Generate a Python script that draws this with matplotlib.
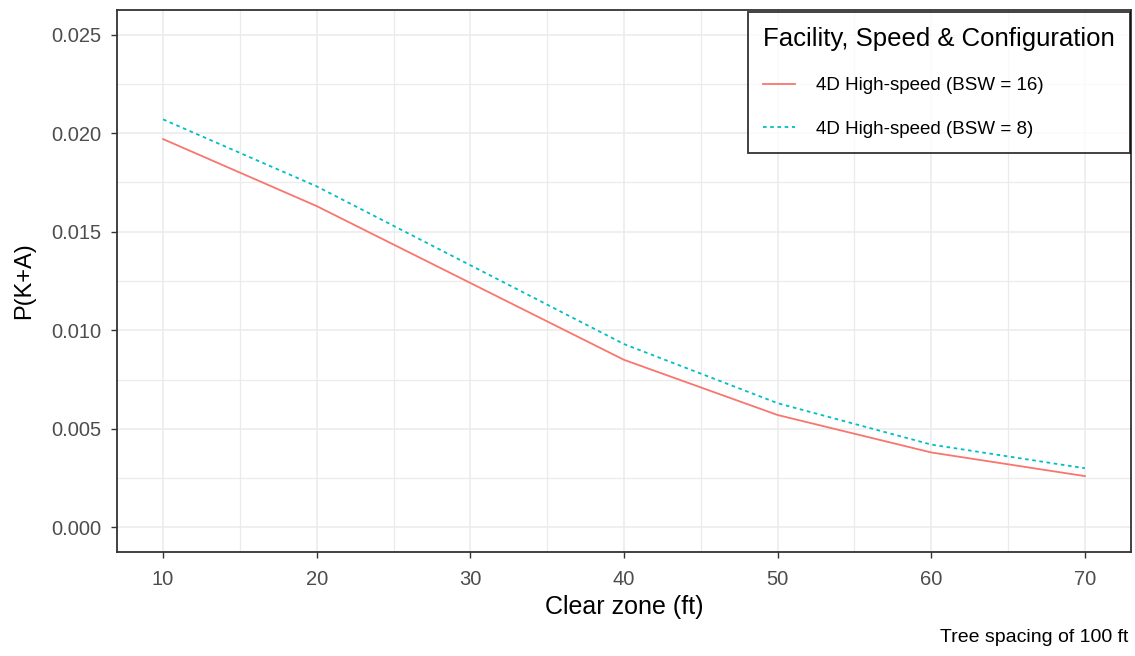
import matplotlib
matplotlib.use("Agg")
import matplotlib.pyplot as plt
from matplotlib.ticker import MultipleLocator

plt.rcParams["font.family"] = ["Liberation Sans", "DejaVu Sans"]

# Probability of fatal/serious injury by clear-zone width
clear_zone = [10, 20, 30, 40, 50, 60, 70]
p_bsw16 = [0.0197, 0.0163, 0.0124, 0.0085, 0.0057, 0.0038, 0.0026]
p_bsw8 = [0.0207, 0.0173, 0.0133, 0.0093, 0.0063, 0.0042, 0.0030]

series_labels = ["4D High-speed (BSW = 16)", "4D High-speed (BSW = 8)"]
legend_title = "Facility, Speed & Configuration"
x_ticks = [10, 20, 30, 40, 50, 60, 70]
y_ticks = [0.000, 0.005, 0.010, 0.015, 0.020, 0.025]

W, H = 1135, 656
fig = plt.figure(figsize=(W / 100, H / 100), dpi=100)
ax = fig.add_axes([117 / W, 1 - 552 / H, (1131 - 117) / W, (552 - 10) / H])

ax.plot(clear_zone, p_bsw16, color="#F8766D", lw=1.3, linestyle="-",
        label=series_labels[0])
ax.plot(clear_zone, p_bsw8, color="#00BFC4", lw=1.3, linestyle=(0, (2, 2)),
        label=series_labels[1])

ax.set_xlim(7, 73)
ax.set_ylim(-0.00125, 0.02625)
ax.set_xticks(x_ticks)
ax.set_yticks(y_ticks)
ax.set_yticklabels([f"{v:.3f}" for v in y_ticks])
ax.xaxis.set_minor_locator(MultipleLocator(5))
ax.yaxis.set_minor_locator(MultipleLocator(0.0025))

ax.grid(which="major", color="#EBEBEB", lw=1.1)
ax.grid(which="minor", color="#EBEBEB", lw=0.9)
ax.set_axisbelow(True)
ax.tick_params(which="minor", length=0)
ax.tick_params(which="major", length=4, width=1, color="#333333",
               labelcolor="#4D4D4D", labelsize=14.5)
ax.tick_params(axis="y", pad=7)
ax.tick_params(axis="x", pad=9)
for s in ax.spines.values():
    s.set_color("#333333")
    s.set_linewidth(1.3)

ax.set_xlabel("Clear zone (ft)", fontsize=18, color="black", labelpad=4)
ax.set_ylabel("P(K+A)", fontsize=17, color="black", labelpad=12)

leg = ax.legend(title=legend_title, loc="upper right",
                bbox_to_anchor=(1130 / W, 1 - 12 / H),
                bbox_transform=fig.transFigure,
                fontsize=13.5, title_fontsize=18.5, frameon=True, fancybox=False,
                edgecolor="black", handlelength=1.7, handletextpad=1.1,
                labelspacing=1.4, borderpad=0.8, borderaxespad=0)
leg.get_frame().set_linewidth(1.3)
leg._legend_box.align = "left"

fig.text(1128 / W, 1 - 637 / H, "Tree spacing of 100 ft", ha="right",
         va="center", fontsize=14, color="black")

fig.savefig("out.png", dpi=100, facecolor="white")
